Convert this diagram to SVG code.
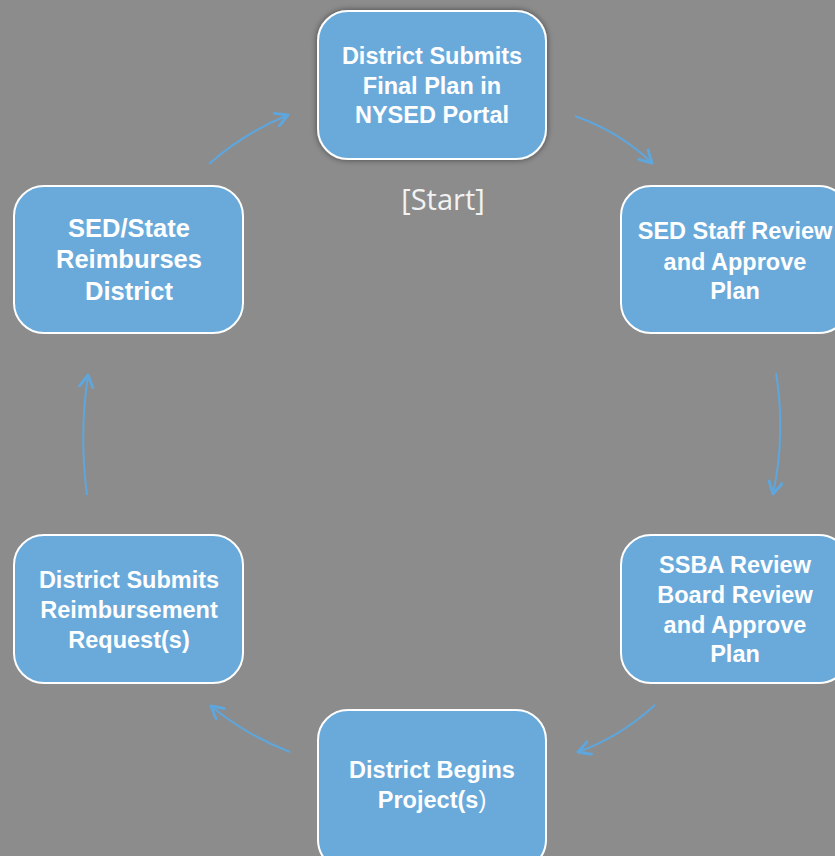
<svg xmlns="http://www.w3.org/2000/svg" width="835" height="856" viewBox="0 0 835 856">
<defs>
<style>
.node rect{fill:#6aaadb;stroke:#ffffff;stroke-width:2}
.node text{fill:#ffffff;font-family:"Liberation Sans",Arial,sans-serif;font-weight:bold;font-size:23.5px;text-anchor:middle}
.conn path{fill:none;stroke:#5ea6dc;stroke-width:2}
.lbl{fill:#f2f2f2;font-family:"Open Sans","Liberation Sans",sans-serif;font-size:29px;text-anchor:middle}
</style>
<marker id="ah" viewBox="0 0 12 12" refX="10" refY="6" markerWidth="16" markerHeight="16" markerUnits="userSpaceOnUse" orient="auto">
<path d="M1,1 L10,6 L1,11" fill="none" stroke="#5ea6dc" stroke-width="2.2" stroke-linecap="round" stroke-linejoin="round"/>
</marker>
<filter id="sh" x="-10%" y="-10%" width="120%" height="120%">
<feGaussianBlur in="SourceAlpha" stdDeviation="3"/>
<feOffset dx="0" dy="0" result="b"/>
<feComponentTransfer><feFuncA type="linear" slope="0.5"/></feComponentTransfer>
<feMerge><feMergeNode/><feMergeNode in="SourceGraphic"/></feMerge>
</filter>
</defs>
<rect x="0" y="0" width="835" height="856" fill="#8c8c8c"/>
<g class="conn" id="connectors">
<path d="M575,116 Q620,132 652,163" marker-end="url(#ah)"/>
<path d="M776,373 Q786,433 773,494" marker-end="url(#ah)"/>
<path d="M655,705 Q620,737 578,752" marker-end="url(#ah)"/>
<path d="M290,752 Q246,735 211,706" marker-end="url(#ah)"/>
<path d="M87,495 Q79,435 88,375" marker-end="url(#ah)"/>
<path d="M209,164 Q244,133 288,115" marker-end="url(#ah)"/>
</g>
<g class="node" id="n1">
<rect x="318" y="11" width="228" height="148" rx="30" filter="url(#sh)"/>
<text x="432" y="64">District Submits</text>
<text x="432" y="94">Final Plan in</text>
<text x="432" y="123">NYSED Portal</text>
</g>
<g class="node" id="n2">
<rect x="621" y="186" width="228" height="147" rx="30"/>
<text x="735" y="239">SED Staff Review</text>
<text x="735" y="270">and Approve</text>
<text x="735" y="299">Plan</text>
</g>
<g class="node" id="n3">
<rect x="621" y="535" width="228" height="148" rx="30"/>
<text x="735" y="573">SSBA Review</text>
<text x="735" y="603">Board Review</text>
<text x="735" y="633">and Approve</text>
<text x="735" y="662">Plan</text>
</g>
<g class="node" id="n4">
<rect x="318" y="710" width="228" height="160" rx="30"/>
<text x="432" y="778">District Begins</text>
<text x="432" y="808">Project(s<tspan font-weight="normal">)</tspan></text>
</g>
<g class="node" id="n5">
<rect x="14" y="535" width="229" height="148" rx="30"/>
<text x="129" y="588">District Submits</text>
<text x="129" y="618">Reimbursement</text>
<text x="129" y="648">Request(s)</text>
</g>
<g class="node" id="n6">
<rect x="14" y="186" width="229" height="147" rx="30"/>
<text x="129" y="237" style="font-size:25.5px">SED/State</text>
<text x="129" y="268" style="font-size:25.5px">Reimburses</text>
<text x="129" y="300" style="font-size:25.5px">District</text>
</g>
<text class="lbl" x="443" y="210">[Start]</text>
</svg>
